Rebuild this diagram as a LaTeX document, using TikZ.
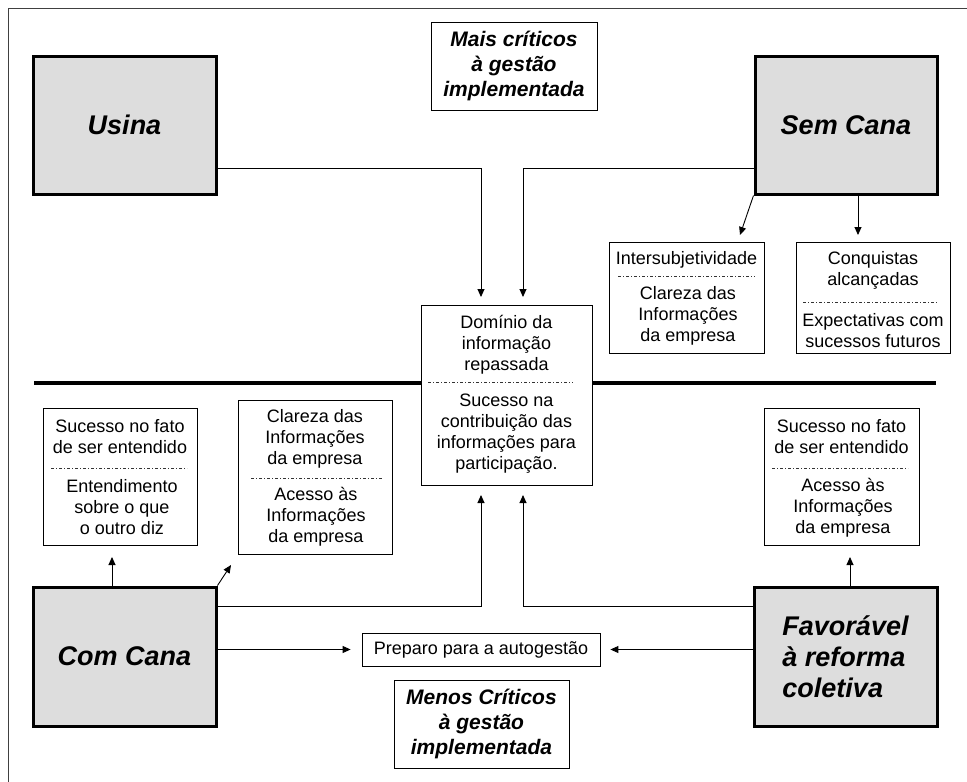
\documentclass[tikz,border=0pt]{standalone}
\usepackage{fontspec}
\setmainfont{Liberation Sans}
\usepackage{tikz}
\usetikzlibrary{arrows.meta}
\definecolor{boxgray}{RGB}{221,221,221}
\newcommand{\sepline}[3]{ % Takes left x, right x, y of the dash-dotted separator
    \draw[sepline] (#1,#3) -- (#2,#3);
}

\begin{document}
\begin{tikzpicture}[x=1pt, y=-1pt,
        bigbox/.style={draw, line width=3pt, fill=boxgray, inner sep=0pt,
            font=\fontsize{27}{31}\selectfont\bfseries\itshape},
        infobox/.style={draw, line width=0.8pt, fill=white, inner sep=0pt},
        infotext/.style={align=center, inner sep=0pt, font=\fontsize{18}{21}\selectfont},
        titlebox/.style={draw, line width=0.8pt, fill=white, align=center, inner sep=0pt,
            font=\fontsize{21}{25}\selectfont\bfseries\itshape},
        sepline/.style={black!80, line width=0.5pt, dash pattern=on 3pt off 2pt on 1pt off 2pt},
        conn/.style={line width=0.9pt, -{Triangle[length=8pt,width=7pt]}}]
        \useasboundingbox (0,0) rectangle (967,782);

        % Frame
        \draw[black!75, line width=1pt] (8,800) -- (8,8) -- (980,8);

        % Dividing line
        \draw[line width=4pt] (34,383) -- (936,383);

        % Profiles
        \node[bigbox, minimum width=183pt, minimum height=138pt] (usina) at (124.5,125) {Usina};
        \node[bigbox, minimum width=182pt, minimum height=138pt] (semcana) at (846,125) {Sem Cana};
        \node[bigbox, minimum width=183pt, minimum height=139pt] (comcana) at (124.5,656.5) {Com Cana};
        \node[bigbox, minimum width=183pt, minimum height=139pt, align=left] (favoravel) at (845.5,656.5)
            {Favorável\\à reforma\\coletiva};

        % Titles
        \node[titlebox, minimum width=166pt, minimum height=88pt] (mais) at (514,66)
            {Mais críticos\\à gestão\\implementada};
        \node[titlebox, minimum width=175pt, minimum height=88pt] (menos) at (481.5,724)
            {Menos Críticos\\à gestão\\implementada};

        % Central box
        \node[infobox, minimum width=171pt, minimum height=180pt] (dominio) at (506.5,395) {};
        \node[infotext] (dominio-a) at (506.5,345) {Domínio da\\informação\\repassada};
        \node[infotext] (dominio-b) at (506.5,433.5) {Sucesso na\\contribuição das\\informações para\\participação.};
        \sepline{428}{573}{382}

        \node[infobox, minimum width=238pt, minimum height=33pt, font=\fontsize{18}{21}\selectfont]
            (preparo) at (481,649.5) {Preparo para a autogestão};

        % Sem Cana outcomes
        \node[infobox, minimum width=155pt, minimum height=111pt] (inter) at (686.5,297.5) {};
        \node[infotext] (inter-a) at (686.5,260) {Intersubjetividade};
        \node[infotext] (inter-b) at (688,315.5) {Clareza das\\Informações\\da empresa};
        \sepline{618}{755}{276}

        \node[infobox, minimum width=154pt, minimum height=111pt] (conquistas) at (873,297.5) {};
        \node[infotext] (conquistas-a) at (873,270.5) {Conquistas\\alcançadas};
        \node[infotext] (conquistas-b) at (873,330.5) {Expectativas com\\sucessos futuros};
        \sepline{803}{938}{302}

        % Com Cana outcomes
        \node[infobox, minimum width=154pt, minimum height=137pt] (sucessoA) at (120,476.5) {};
        \node[infotext] (sucessoA-a) at (120,436.5) {Sucesso no fato\\de ser entendido};
        \node[infotext] (sucessoA-b) at (122,507.5) {Entendimento\\sobre o que\\o outro diz};
        \sepline{51}{187}{468}

        \node[infobox, minimum width=154pt, minimum height=154pt] (clareza) at (315,477) {};
        \node[infotext] (clareza-a) at (315,439) {Clareza das\\Informações\\da empresa};
        \node[infotext] (clareza-b) at (316,516.5) {Acesso às\\Informações\\da empresa};
        \sepline{251}{382}{478}

        % Favoravel outcomes
        \node[infobox, minimum width=155pt, minimum height=137pt] (sucessoB) at (841.5,476.5) {};
        \node[infotext] (sucessoB-a) at (841.5,436.5) {Sucesso no fato\\de ser entendido};
        \node[infotext] (sucessoB-b) at (843,507.5) {Acesso às\\Informações\\da empresa};
        \sepline{772}{908}{468}

        % Arrow ends
        \coordinate (usinatip) at (481,297);
        \coordinate (semtip) at (523,297);
        \coordinate (comtip) at (481,495);
        \coordinate (favtip) at (523,495);
        \coordinate (intertip) at (740,235);
        \coordinate (conqtip) at (858,235);
        \coordinate (sucAtip) at (112,557);
        \coordinate (claretip) at (231,565);
        \coordinate (sucBtip) at (850,557);

        % Connectors
        \draw[conn] (usina.east |- 0,168) -| (usinatip);
        \draw[conn] (semcana.west |- 0,168) -| (semtip);
        \draw[conn] (comcana.east |- 0,606) -| (comtip);
        \draw[conn] (favoravel.west |- 0,606) -| (favtip);
        \draw[conn] (semcana.south west) -- (intertip);
        \draw[conn] (semcana.south -| conqtip) -- (conqtip);
        \draw[conn] (comcana.north -| sucAtip) -- (sucAtip);
        \draw[conn] (comcana.north east) -- (claretip);
        \draw[conn] (favoravel.north -| sucBtip) -- (sucBtip);
        \draw[conn] (comcana.east |- preparo.west) -- ([xshift=-11pt]preparo.west);
        \draw[conn] (favoravel.west |- preparo.east) -- ([xshift=10pt]preparo.east);
    \end{tikzpicture}
\end{document}
